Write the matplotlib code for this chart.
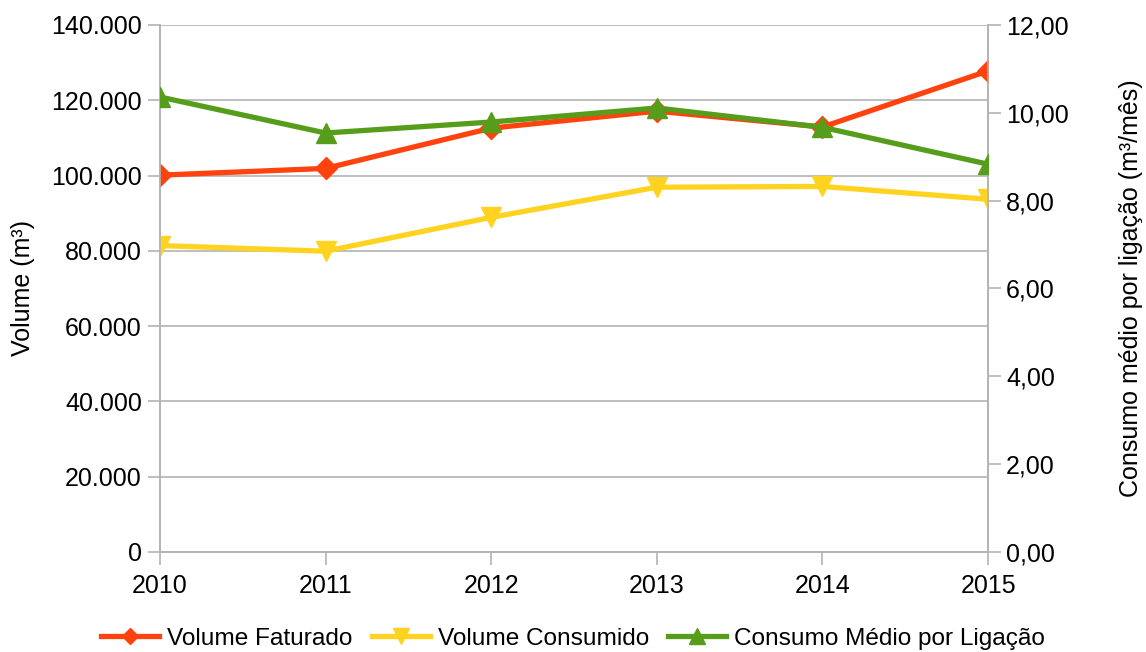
import matplotlib.pyplot as plt
import numpy as np

plt.rcParams['font.family'] = ['Liberation Sans', 'DejaVu Sans']

anos = ['2010', '2011', '2012', '2013', '2014', '2015']
volume_faturado = [100100, 101900, 112600, 117100, 112900, 127800]
volume_consumido = [81400, 79900, 88900, 96900, 97100, 93700]
consumo_medio = [10.36, 9.54, 9.79, 10.11, 9.67, 8.83]

grey = '#b3b3b3'

fig = plt.figure(figsize=(11.46, 6.52), dpi=100)
ax = fig.add_axes([0.1396, 0.1534, 0.7226, 0.8083])
ax2 = ax.twinx()

x = np.arange(len(anos))
l1, = ax.plot(x, volume_faturado, color='#ff420e', lw=3.8, marker='D', ms=11,
              label='Volume Faturado', zorder=3)
l2, = ax.plot(x, volume_consumido, color='#ffd320', lw=3.8, marker='v', ms=15,
              label='Volume Consumido', zorder=3)
l3, = ax2.plot(x, consumo_medio, color='#579d1c', lw=3.8, marker='^', ms=15,
               label='Consumo Médio por Ligação', zorder=3)

ax.set_xlim(0, len(anos) - 1)
ax.set_ylim(0, 140000)
ax2.set_ylim(0, 12)
ax.set_xticks(x)
ax.set_xticklabels(anos)
ax.set_yticks(np.arange(0, 140001, 20000))
ax.set_yticklabels([f'{v:,}'.replace(',', '.') for v in range(0, 140001, 20000)])
ax2.set_yticks(np.arange(0, 12.01, 2))
ax2.set_yticklabels([f'{v:.2f}'.replace('.', ',') for v in np.arange(0, 12.01, 2)])

ax.grid(axis='y', color=grey, lw=1.2)
ax.set_axisbelow(True)
for a in (ax, ax2):
    for s in a.spines.values():
        s.set_color(grey)
        s.set_linewidth(1.2)
    a.spines['top'].set_visible(False)
    a.tick_params(colors=grey, labelcolor='black', labelsize=18, length=9, width=1.2, pad=4)
ax.tick_params(axis='x', pad=7)

ax.set_ylabel('Volume (m³)', fontsize=18, labelpad=12)
ax2.set_ylabel('Consumo médio por ligação (m³/mês)', fontsize=18, labelpad=36)

fig.legend(handles=[l1, l2, l3], loc='lower center', bbox_to_anchor=(0.5, -0.03),
           ncol=3, frameon=False, fontsize=17.6, handlelength=2.37,
           handletextpad=0.33, columnspacing=0.78, markerscale=0.75)

fig.savefig('out.png', dpi=100)
